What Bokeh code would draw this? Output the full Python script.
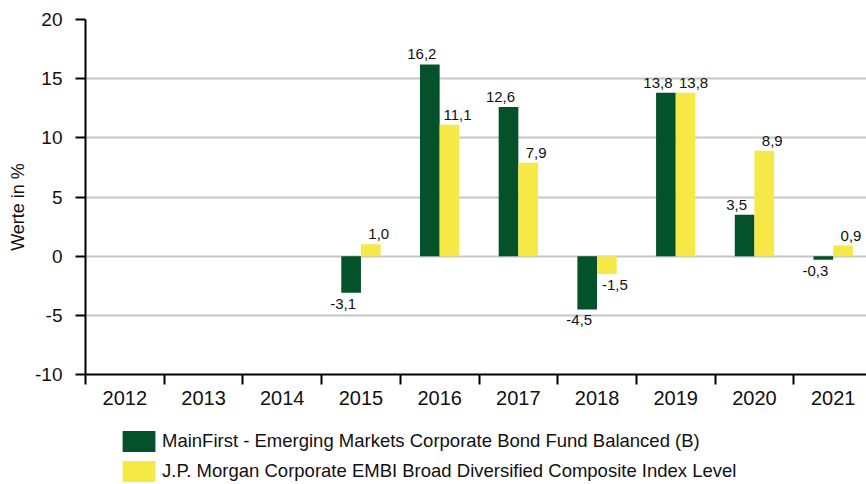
from bokeh.plotting import figure
from bokeh.layouts import column
from bokeh.models import (Range1d, FixedTicker, LinearAxis, Legend, LegendItem,
                          ColumnDataSource)
from bokeh.embed import file_html
from bokeh.resources import INLINE
from bokeh.core.properties import value

years = ["2012", "2013", "2014", "2015", "2016", "2017", "2018", "2019", "2020", "2021"]
fund = [None, None, None, -3.1, 16.2, 12.6, -4.5, 13.8, 3.5, -0.3]
index = [None, None, None, 1.0, 11.1, 7.9, -1.5, 13.8, 8.9, 0.9]
fund_name = "MainFirst - Emerging Markets Corporate Bond Fund Balanced (B)"
index_name = "J.P. Morgan Corporate EMBI Broad Diversified Composite Index Level"
y_title = "Werte in %"
y_ticks = [-10, -5, 0, 5, 10, 15, 20]

GREEN = "#04522a"
YELLOW = "#f6e946"
FONT = "Liberation Sans"
TXT = "#111111"

W = 866
H_MAIN, H_LEG = 420, 64
LEFT, TOP = 85, 19
BOTTOM = H_MAIN - 374
cat_px = 78.7
frame_w = W - LEFT

p = figure(width=W, height=H_MAIN, output_backend="svg", toolbar_location=None,
           x_range=Range1d(0, frame_w / cat_px), y_range=Range1d(-10, 20),
           min_border_left=LEFT, min_border_right=0, min_border_top=TOP,
           min_border_bottom=BOTTOM, x_axis_type=None)
p.outline_line_color = None
p.background_fill_color = "white"
p.border_fill_color = "white"


def label_src(vals, shift, xoff, positive):
    xs, labels, ys, xoffs = [], [], [], []
    for i, v in enumerate(vals):
        if v is None or (v >= 0) != positive:
            continue
        xs.append(i + 0.5 + shift)
        labels.append(f"{v:.1f}".replace(".", ","))
        ys.append(v)
        xoffs.append(xoff)
    return ColumnDataSource(dict(x=xs, label=labels, y=ys, xoff=xoffs))


def bar_src(vals, shift):
    xs, tops = [], []
    for i, v in enumerate(vals):
        if v is None:
            continue
        xs.append(i + 0.5 + shift)
        tops.append(v)
    return ColumnDataSource(dict(x=xs, top=tops))


src_f = bar_src(fund, -0.125)
src_i = bar_src(index, 0.125)
p.vbar(x="x", top="top", bottom=0, width=0.25, source=src_f,
       fill_color=GREEN, line_color=None)
p.vbar(x="x", top="top", bottom=0, width=0.25, source=src_i,
       fill_color=YELLOW, line_color=None)

for vals, shift, xoff in ((fund, -0.125, -8), (index, 0.125, 8)):
    p.text(x="x", y="y", text="label", source=label_src(vals, shift, xoff, True),
           x_offset="xoff", y_offset=-5,
           text_align="center", text_baseline="bottom",
           text_font=value(FONT), text_font_size="15px", text_color=TXT)
    p.text(x="x", y="y", text="label", source=label_src(vals, shift, xoff, False),
           x_offset="xoff", y_offset=6,
           text_align="center", text_baseline="top",
           text_font=value(FONT), text_font_size="15px", text_color=TXT)

# y axis
yax = p.yaxis[0]
yax.ticker = FixedTicker(ticks=y_ticks)
yax.axis_line_width = 2
yax.axis_line_color = "black"
yax.major_tick_line_width = 2
yax.major_tick_line_color = "black"
yax.major_tick_out = 10
yax.major_tick_in = 0
yax.minor_tick_line_color = None
yax.major_label_text_font = FONT
yax.major_label_text_font_size = "19px"
yax.major_label_text_color = TXT
yax.major_label_standoff = 13
yax.major_label_overrides = {t: str(t) for t in y_ticks}
yax.axis_label = y_title + "\u00a0" * 4
yax.axis_label_text_font = FONT
yax.axis_label_text_font_size = "18px"
yax.axis_label_text_font_style = "normal"
yax.axis_label_text_color = TXT
yax.axis_label_standoff = 4

p.ygrid.ticker = FixedTicker(ticks=y_ticks)
p.ygrid.grid_line_color = "#c6c6c6"
p.ygrid.grid_line_width = 2
p.xgrid.grid_line_color = None

# x axis: tick marks at category boundaries
ax1 = LinearAxis(ticker=FixedTicker(ticks=list(range(len(years)))))
ax1.axis_line_width = 2
ax1.axis_line_color = "black"
ax1.major_tick_line_width = 2
ax1.major_tick_line_color = "black"
ax1.major_tick_out = 10
ax1.major_tick_in = 0
ax1.minor_tick_line_color = None
ax1.major_label_text_font_size = "0px"
ax1.major_label_standoff = 0
ax1.major_label_overrides = {i: "" for i in range(len(years))}
p.add_layout(ax1, "below")

# x axis: year labels at category centres
centres = [i + 0.5 for i in range(len(years))]
ax2 = LinearAxis(ticker=FixedTicker(ticks=centres))
ax2.axis_line_color = None
ax2.major_tick_line_color = None
ax2.minor_tick_line_color = None
ax2.major_tick_out = 0
ax2.major_tick_in = 0
ax2.major_label_overrides = {c: y for c, y in zip(centres, years)}
ax2.major_label_text_font = FONT
ax2.major_label_text_font_size = "20px"
ax2.major_label_text_color = TXT
ax2.major_label_standoff = 6
p.add_layout(ax2, "below")

# legend strip beneath the chart (invisible copies of the bar series as keys)
lg = figure(width=W, height=H_LEG, output_backend="svg", toolbar_location=None,
            x_range=Range1d(0, 1), y_range=Range1d(0, 1),
            x_axis_type=None, y_axis_type=None,
            min_border_left=0, min_border_right=0, min_border_top=0,
            min_border_bottom=0)
lg.outline_line_color = None
lg.grid.grid_line_color = None
k_f = lg.vbar(x="x", top="top", width=0.25, source=src_f,
              fill_color=GREEN, line_color=None, visible=False)
k_i = lg.vbar(x="x", top="top", width=0.25, source=src_i,
              fill_color=YELLOW, line_color=None, visible=False)

legend = Legend(items=[LegendItem(label=fund_name, renderers=[k_f]),
                       LegendItem(label=index_name, renderers=[k_i])],
                location=(33, 0), orientation="vertical")
legend.glyph_width = 41
legend.glyph_height = 26
legend.label_height = 26
legend.spacing = 4
legend.padding = 0
legend.margin = 0
legend.label_standoff = 3
legend.label_text_font = FONT
legend.label_text_font_size = "18.5px"
legend.label_text_color = TXT
legend.border_line_color = None
legend.background_fill_alpha = 0
lg.add_layout(legend)

layout = column(p, lg, spacing=0)
open("out.html", "w").write(file_html(layout, INLINE))
